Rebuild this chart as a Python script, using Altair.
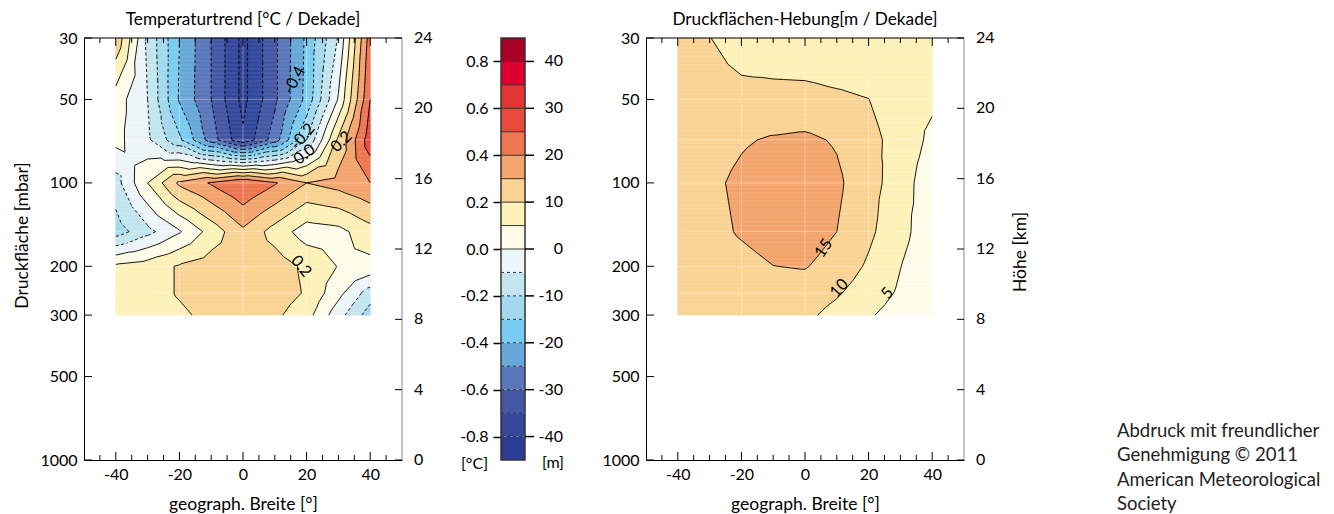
import numpy as np
import pandas as pd
import altair as alt

alt.data_transformers.disable_max_rows()

# ---------------- data ----------------
LATS = [-40, -30, -20, -10, 0, 10, 20, 30, 40]
LEVELS = [30, 50, 70, 100, 150, 200, 250, 300]

# Temperaturtrend [°C / Dekade], one list per pressure level, lat -40 .. 40
T_030 = [0.28, -0.12, -0.40, -0.60, -0.83, -0.62, -0.38, -0.09, 0.45]
T_050 = [0.05, -0.10, -0.41, -0.60, -0.83, -0.62, -0.37, 0.01, 0.50]
T_070 = [0.03, -0.08, -0.28, -0.55, -0.78, -0.55, -0.20, 0.22, 0.56]
T_100 = [-0.14, 0.10, 0.32, 0.41, 0.50, 0.41, 0.30, 0.34, 0.40]
T_150 = [-0.25, -0.13, -0.01, 0.14, 0.28, 0.16, 0.05, 0.07, 0.16]
T_200 = [0.12, 0.15, 0.21, 0.25, 0.27, 0.25, 0.18, 0.095, 0.07]
T_250 = [0.12, 0.15, 0.21, 0.26, 0.27, 0.25, 0.19, 0.03, -0.15]
T_300 = [0.12, 0.15, 0.18, 0.23, 0.25, 0.22, 0.14, -0.06, -0.25]
TEMP = [T_030, T_050, T_070, T_100, T_150, T_200, T_250, T_300]

# Druckflächen-Hebung [m / Dekade]
H_030 = [12.0, 10.1, 8.0, 7.6, 7.5, 7.2, 7.0, 6.5, 6.5]
H_050 = [12.0, 12.0, 11.3, 11.2, 11.1, 10.6, 10.05, 8.0, 6.0]
H_070 = [12.5, 13.0, 14.5, 15.5, 16.0, 14.5, 11.0, 8.7, 3.6]
H_100 = [12.5, 14.0, 16.0, 17.5, 18.0, 16.0, 11.5, 8.0, 1.0]
H_150 = [12.5, 13.5, 15.5, 17.0, 17.5, 15.0, 11.0, 6.5, 2.0]
H_200 = [12.0, 12.5, 13.5, 14.95, 15.3, 13.0, 9.3, 5.1, 1.5]
H_250 = [12.0, 12.0, 12.5, 13.0, 12.5, 10.5, 7.5, 4.3, 1.5]
H_300 = [11.5, 12.0, 12.0, 12.0, 11.0, 8.5, 5.5, 3.0, 1.0]
HEB = [H_030, H_050, H_070, H_100, H_150, H_200, H_250, H_300]
M_PER_C = 50.0  # 0.1 °C band == 5 m band

# colour bands from -0.9 to 0.9 °C (-45 .. 45 m)
CB_EDGES = [-0.9, -0.8, -0.7, -0.6, -0.5, -0.4, -0.3, -0.2, -0.1, 0.0,
            0.1, 0.2, 0.3, 0.4, 0.5, 0.6, 0.7, 0.8, 0.9]
COLORS = ['#2c3c92', '#34479b', '#4556a5', '#5a76ba', '#67a7d9', '#79ccf1',
          '#a2d9ee', '#c2e5ef', '#ecf5f8', '#fefce9', '#fdf2b8', '#fad393',
          '#f4a46c', '#ee7651', '#e84b3c', '#e53434', '#dc0030', '#a60026']
CB_TICKS_C = [-0.8, -0.6, -0.4, -0.2, 0.0, 0.2, 0.4, 0.6, 0.8]
CB_TICKS_M = [-40, -30, -20, -10, 0, 10, 20, 30, 40]

X_LABELS = [-40, -20, 0, 20, 40]
X_MINOR = [-45, -35, -30, -25, -15, -10, -5, 5, 10, 15, 25, 30, 35, 45]
P_TICKS = [30, 50, 100, 200, 300, 500, 1000]
P_TOP, P_BOTTOM, P_DATA_BOTTOM = 30, 1000, 300
KM_TICKS = [0, 4, 8, 12, 16, 20, 24]
KM_TOP = 24
GRID_LATS = [-20, 0, 20]
GRID_P = [50, 70, 100, 150, 200, 250]

LEFT_LABELS = [("-0.4", 16.2, 42.6, 298), ("-0.2", 18.8, 68.0, 310),
               ("0.0", 19.3, 79.0, 322), ("0.2", 30.9, 71.0, 315),
               ("0.2", 18.3, 200.0, 50)]
RIGHT_LABELS = [("15", 5.9, 172.0, 305), ("10", 10.8, 240.0, 312),
                ("5", 25.9, 250.0, 312)]
COPYRIGHT = "Abdruck mit freundlicher\nGenehmigung © 2011\nAmerican Meteorological\nSociety"

# ---------------- contour helpers (piecewise-linear on triangles) ----------------
X = np.array(LATS, float)
Y = np.log10(np.array(LEVELS, float))
EPS = 1e-7
INNER = np.array(CB_EDGES[1:-1]) + EPS


def interp(G, lat, lp):
    i = np.clip(np.searchsorted(X, lat, side='right') - 1, 0, len(X) - 2)
    j = np.clip(np.searchsorted(Y, lp, side='right') - 1, 0, len(Y) - 2)
    u = (lat - X[i]) / (X[i + 1] - X[i])
    w = (lp - Y[j]) / (Y[j + 1] - Y[j])
    f00 = G[j, i]; f10 = G[j, i + 1]; f01 = G[j + 1, i]; f11 = G[j + 1, i + 1]
    fc = (f00 + f10 + f01 + f11) / 4.0
    fb = f00 + u * (f10 - f00) + w * (2 * fc - f00 - f10)
    ft = f01 + u * (f11 - f01) + (1 - w) * (2 * fc - f01 - f11)
    fl = f00 + w * (f01 - f00) + u * (2 * fc - f00 - f01)
    fr = f10 + w * (f11 - f10) + (1 - u) * (2 * fc - f10 - f11)
    return np.where((w <= u) & (w <= 1 - u), fb,
                    np.where((w >= u) & (w >= 1 - u), ft,
                             np.where(u <= 0.5, fl, fr)))


def raster(G, nrows=210, ncols=320):
    lat_e = np.linspace(X[0], X[-1], ncols + 1)
    lat_c = (lat_e[:-1] + lat_e[1:]) / 2
    lp_e = np.linspace(Y[0], Y[-1], nrows + 1)
    lp_c = (lp_e[:-1] + lp_e[1:]) / 2
    out = []
    for r in range(nrows):
        v = interp(G, lat_c, np.full(ncols, lp_c[r]))
        b = np.searchsorted(INNER, v, side='left')
        s = 0
        for k in range(1, ncols + 1):
            if k == ncols or b[k] != b[s]:
                out.append((lat_e[s], lat_e[k], 10 ** lp_e[r], 10 ** lp_e[r + 1], int(b[s])))
                s = k
    return pd.DataFrame(out, columns=['lat0', 'lat1', 'p0', 'p1', 'band'])


def contours(G):
    segs = []
    for j in range(len(Y) - 1):
        for i in range(len(X) - 1):
            P = [(X[i], Y[j], G[j, i]), (X[i + 1], Y[j], G[j, i + 1]),
                 (X[i + 1], Y[j + 1], G[j + 1, i + 1]), (X[i], Y[j + 1], G[j + 1, i])]
            C = ((X[i] + X[i + 1]) / 2, (Y[j] + Y[j + 1]) / 2, sum(p[2] for p in P) / 4.0)
            for k in range(4):
                tri = [P[k], P[(k + 1) % 4], C]
                vals = [t[2] for t in tri]
                for L in INNER:
                    if min(vals) >= L or max(vals) <= L:
                        continue
                    pts = []
                    for a, bb in ((0, 1), (1, 2), (2, 0)):
                        fa, fb = tri[a][2], tri[bb][2]
                        if (fa - L) * (fb - L) < 0:
                            t = (L - fa) / (fb - fa)
                            pts.append((tri[a][0] + t * (tri[bb][0] - tri[a][0]),
                                        tri[a][1] + t * (tri[bb][1] - tri[a][1])))
                    if len(pts) == 2:
                        segs.append((pts[0][0], 10 ** pts[0][1], pts[1][0], 10 ** pts[1][1], L < 0))
    return pd.DataFrame(segs, columns=['lat', 'p', 'lat2', 'p2', 'neg'])


def km_to_p(km):
    # height axis is linear in log-pressure: 0 km at 1000 mbar, 24 km at 30 mbar
    return P_BOTTOM * (P_TOP / P_BOTTOM) ** (km / KM_TOP)


# ---------------- chart ----------------
FONT = 'Lato'
W, H = 318, 422
CBW, CBVIEW = 24, 46
XS = alt.Scale(domain=[-50, 50], nice=False, zero=False)
YS = alt.Scale(type='log', domain=[P_TOP, P_BOTTOM], nice=False, reverse=True)
BAND = alt.Scale(domain=list(range(18)), range=COLORS)
NEG = "datum.value < 0 ? '-' + format(-datum.value, '{f}') : format(datum.value, '{f}')"
XTITLE = 'geograph. Breite [°]'
TITLE_SIZE = 17.2
AXIS_TITLE_SIZE = 17.5


def panel(G, title, ytitle, ktitle, labels, with_text=False):
    rast = raster(G)
    seg = contours(G)
    xaxis = alt.Axis(values=X_LABELS, ticks=False, grid=False, labelPadding=6,
                     titlePadding=13, labelExpr=NEG.format(f='d'), labelFlush=False,
                     labelOverlap=False)
    yaxis = alt.Axis(values=P_TICKS, ticks=False, grid=False, labelPadding=7,
                     titlePadding=8, format='d', labelFlush=False, labelOverlap=False,
                     titleY=197)
    ty = ytitle if ytitle else None
    layers = []
    layers.append(alt.Chart(rast).mark_rect(strokeWidth=0.6).encode(
        x=alt.X('lat0:Q', scale=XS, axis=xaxis, title=XTITLE),
        x2='lat1:Q',
        y=alt.Y('p0:Q', scale=YS, axis=yaxis, title=ty),
        y2='p1:Q',
        color=alt.Color('band:O', scale=BAND, legend=None),
        stroke=alt.Stroke('band:O', scale=BAND, legend=None)))
    gl = pd.DataFrame({'lat': GRID_LATS})
    gl['pt'] = P_TOP
    gl['pb'] = P_DATA_BOTTOM
    layers.append(alt.Chart(gl).mark_rule(color='white', opacity=0.35, strokeWidth=1).encode(
        x=alt.X('lat:Q', title=XTITLE), y=alt.Y('pt:Q', title=ty), y2='pb:Q'))
    gp = pd.DataFrame({'p': GRID_P})
    gp['l0'] = LATS[0]
    gp['l1'] = LATS[-1]
    layers.append(alt.Chart(gp).mark_rule(color='white', opacity=0.35, strokeWidth=1).encode(
        y=alt.Y('p:Q', title=ty), x=alt.X('l0:Q', title=XTITLE), x2='l1:Q'))
    pos = seg[~seg['neg']]
    neg = seg[seg['neg']]
    if len(pos):
        layers.append(alt.Chart(pos).mark_rule(color='black', strokeWidth=0.9).encode(
            x=alt.X('lat:Q', title=XTITLE), y=alt.Y('p:Q', title=ty), x2='lat2:Q', y2='p2:Q'))
    if len(neg):
        layers.append(alt.Chart(neg).mark_rule(color='black', strokeWidth=0.9,
                                               strokeDash=[3, 2.5]).encode(
            x=alt.X('lat:Q', title=XTITLE), y=alt.Y('p:Q', title=ty), x2='lat2:Q', y2='p2:Q'))
    for (t, la, pp, ang) in labels:
        layers.append(alt.Chart(pd.DataFrame({'t': [t], 'lat': [la], 'p': [pp]})).mark_text(
            fontSize=16, font=FONT, color='black', angle=ang).encode(
            x=alt.X('lat:Q', title=XTITLE), y=alt.Y('p:Q', title=ty), text='t:N'))
    maj = pd.DataFrame({'lat': X_LABELS})
    mnr = pd.DataFrame({'lat': X_MINOR})
    for d, ln in ((maj, 8), (mnr, 5)):
        layers.append(alt.Chart(d).mark_rule(color='black', strokeWidth=1).encode(
            x=alt.X('lat:Q', title=XTITLE), y=alt.value(H), y2=alt.value(H - ln)))
        layers.append(alt.Chart(d).mark_rule(color='black', strokeWidth=1).encode(
            x=alt.X('lat:Q', title=XTITLE), y=alt.value(0), y2=alt.value(ln)))
    layers.append(alt.Chart(pd.DataFrame({'p': P_TICKS})).mark_rule(
        color='black', strokeWidth=1).encode(
        y=alt.Y('p:Q', title=ty), x=alt.value(0), x2=alt.value(8)))
    # top frame line
    layers.append(alt.Chart(pd.DataFrame({'p': [P_TOP]})).mark_rule(
        color='black', strokeWidth=1.2).encode(
        y=alt.Y('p:Q', title=ty), x=alt.value(0), x2=alt.value(W)))
    # right frame line (grey) + height axis (km)
    fr = pd.DataFrame({'pt': [P_TOP], 'pb': [P_BOTTOM]})
    layers.append(alt.Chart(fr).mark_rule(color='#888888', strokeWidth=1).encode(
        y=alt.Y('pt:Q', title=ty), y2='pb:Q', x=alt.value(W)))
    kd = pd.DataFrame({'km': KM_TICKS})
    kd['p'] = km_to_p(kd['km'].astype(float))
    layers.append(alt.Chart(kd).mark_rule(color='black', strokeWidth=1).encode(
        y=alt.Y('p:Q', title=ty), x=alt.value(W - 7), x2=alt.value(W)))
    layers.append(alt.Chart(kd).mark_text(align='left', baseline='middle', fontSize=16,
                                          font=FONT, color='black').encode(
        y=alt.Y('p:Q', title=ty), x=alt.value(W + 12), text='km:Q'))
    if ktitle:
        layers.append(alt.Chart(pd.DataFrame({'t': [ktitle]})).mark_text(
            angle=270, align='center', baseline='middle', fontSize=AXIS_TITLE_SIZE,
            font=FONT, color='black').encode(
            text='t:N', x=alt.value(W + 57), y=alt.value(214)))
    if with_text:
        layers.append(alt.Chart(pd.DataFrame({'t': [COPYRIGHT]})).mark_text(
            align='left', baseline='top', lineBreak='\n', lineHeight=24.4,
            fontSize=18.5, font=FONT, color='#222222').encode(
            text='t:N', x=alt.value(471), y=alt.value(384)))
    return alt.layer(*layers).properties(
        width=W, height=H,
        title=alt.TitleParams(title, fontSize=TITLE_SIZE, font=FONT, fontWeight='normal',
                              offset=1.5, anchor='middle', color='black'))


left = panel(np.array(TEMP), 'Temperaturtrend [°C / Dekade]', 'Druckfläche [mbar]', None, LEFT_LABELS)
right = panel(np.array(HEB) / M_PER_C, 'Druckflächen-Hebung[m / Dekade]', None, 'Höhe [km]',
              RIGHT_LABELS, with_text=True)

# colour bar
CBS = alt.Scale(domain=[CB_EDGES[0], CB_EDGES[-1]], nice=False, zero=False)
cb_df = pd.DataFrame({'lo': CB_EDGES[:-1], 'hi': CB_EDGES[1:], 'band': list(range(18))})
cb_axis = alt.Axis(values=CB_TICKS_C, labelExpr=NEG.format(f='.1f'), tickSize=8,
                   tickWidth=1.5, tickColor='black', domain=False, grid=False,
                   labelPadding=5, titleAngle=0, titleX=-27, titleY=425,
                   titleBaseline='middle', titleAlign='center', titleFontSize=16,
                   labelFlush=False, labelOverlap=False)
CT = '[°C]'
cb_rect = alt.Chart(cb_df).mark_rect().encode(
    y=alt.Y('lo:Q', scale=CBS, axis=cb_axis, title=CT), y2='hi:Q',
    x=alt.value(0), x2=alt.value(CBW),
    color=alt.Color('band:O', scale=BAND, legend=None))
inner_edges = pd.DataFrame({'e': CB_EDGES[1:-1]})
cb_solid = alt.Chart(inner_edges[inner_edges['e'] >= 0]).mark_rule(
    color='#333333', strokeWidth=1).encode(
    y=alt.Y('e:Q', title=CT), x=alt.value(0), x2=alt.value(CBW))
cb_dash = alt.Chart(inner_edges[inner_edges['e'] < 0]).mark_rule(
    color='#333333', strokeWidth=1, strokeDash=[3, 3]).encode(
    y=alt.Y('e:Q', title=CT), x=alt.value(0), x2=alt.value(CBW))
cb_frame = alt.Chart(pd.DataFrame({'lo': [CB_EDGES[0]], 'hi': [CB_EDGES[-1]]})).mark_rect(
    fillOpacity=0, stroke='#333333', strokeWidth=1.5).encode(
    y=alt.Y('lo:Q', title=CT), y2='hi:Q', x=alt.value(0), x2=alt.value(CBW))
md = pd.DataFrame({'m': CB_TICKS_M})
md['c'] = md['m'] / M_PER_C
md['lab'] = [('-' + str(-v)) if v < 0 else str(v) for v in CB_TICKS_M]
cb_mticks = alt.Chart(md).mark_rule(color='black', strokeWidth=1.5).encode(
    y=alt.Y('c:Q', title=CT), x=alt.value(CBW), x2=alt.value(CBW + 9))
cb_mlabels = alt.Chart(md).mark_text(align='right', baseline='middle', fontSize=16,
                                     font=FONT, color='black').encode(
    y=alt.Y('c:Q', title=CT), x=alt.value(CBW + 38), text='lab:N')
cb_munit = alt.Chart(pd.DataFrame({'t': ['[m]']})).mark_text(
    align='center', baseline='middle', fontSize=16, font=FONT, color='black').encode(
    text='t:N', x=alt.value(CBW + 28), y=alt.value(425))
cbar = alt.layer(cb_rect, cb_solid, cb_dash, cb_frame, cb_mticks, cb_mlabels,
                 cb_munit).properties(width=CBVIEW, height=H)

chart = alt.hconcat(left, cbar, right, spacing=99, bounds='flush')

chart = chart.configure(
    padding={'left': 5, 'top': 3, 'right': 5, 'bottom': 0}
).configure_view(stroke=None).configure_axis(
    labelFont=FONT, titleFont=FONT, labelFontSize=16, titleFontSize=AXIS_TITLE_SIZE,
    labelColor='black', titleColor='black', titleFontWeight='normal',
    domainColor='black', domainWidth=1
).configure_title(font=FONT, fontSize=TITLE_SIZE, fontWeight='normal', color='black')

chart.save("out.html", embed_options={"renderer": "svg", "actions": False})
